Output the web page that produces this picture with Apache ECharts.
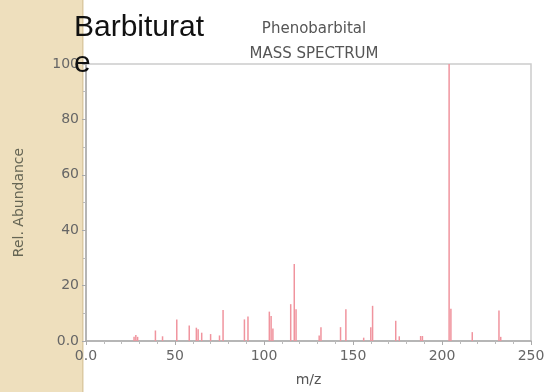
<!DOCTYPE html>
<html>
<head>
<meta charset="utf-8">
<script src="https://cdn.jsdelivr.net/npm/echarts@6/dist/echarts.min.js"></script>
<style>
  html, body { margin: 0; padding: 0; background: #fff; }
  #chart { width: 549px; height: 392px; }
</style>
</head>
<body>
<div id="chart"></div>
<script>
// peaks: m/z and relative abundance
const mz = [27, 28, 29, 39, 43, 51, 58, 62, 63, 65, 70, 75, 77, 89, 91, 103, 104, 105, 115, 117, 118, 131, 132, 143, 146, 156, 160, 161, 174, 176, 188, 189, 204, 205, 217, 232, 233];
const abundance = [1.5, 2.2, 1.5, 3.8, 1.7, 7.8, 5.6, 4.8, 4.2, 3.0, 2.5, 2.0, 11.2, 7.8, 8.8, 10.6, 9.0, 4.5, 13.3, 27.8, 11.5, 2.0, 5.0, 5.0, 11.5, 1.2, 5.0, 12.7, 7.3, 1.7, 1.8, 1.8, 100, 11.6, 3.2, 11.0, 1.5];
const xTicks = [0, 50, 100, 150, 200, 250];
const yTicks = [0, 20, 40, 60, 80, 100];

const chart = echarts.init(document.getElementById("chart"));

const fmt = (v) => (v === 0 ? "0.0" : String(v));

chart.setOption({
  animation: false,
  backgroundColor: "#ffffff",
  textStyle: { fontFamily: "DejaVu Sans" },
  graphic: [
    {
      type: "rect",
      z: -10,
      shape: { x: 0, y: 0, width: 83, height: 392 },
      style: { fill: "#eedfbd" },
    },
    {
      type: "rect",
      z: -9,
      shape: { x: 82, y: 0, width: 1.5, height: 392 },
      style: { fill: "#dccaa2" },
    },
  ],
  title: [
    {
      text: "Barbiturat\ne",
      left: 69,
      top: 5,
      textStyle: {
        fontFamily: "Liberation Sans",
        fontSize: 30,
        fontWeight: "normal",
        lineHeight: 36,
        color: "#111111",
      },
    },
    {
      text: "Phenobarbital",
      left: 309,
      top: 17,
      textAlign: "center",
      textStyle: { fontSize: 15, fontWeight: "normal", color: "#555555" },
    },
    {
      text: "MASS SPECTRUM",
      left: 309,
      top: 42,
      textAlign: "center",
      textStyle: { fontSize: 15, fontWeight: "normal", color: "#555555" },
    },
  ],
  grid: {
    left: 86,
    right: 18,
    top: 64,
    bottom: 49,
    show: true,
    borderColor: "#cccccc",
    borderWidth: 1.5,
    backgroundColor: "transparent",
  },
  xAxis: {
    type: "value",
    min: xTicks[0],
    max: xTicks[xTicks.length - 1],
    interval: 50,
    name: "m/z",
    nameLocation: "middle",
    nameGap: 32,
    nameTextStyle: { fontSize: 14, color: "#555555" },
    axisLine: { show: true, lineStyle: { color: "#aaaaaa", width: 1.5 } },
    axisTick: { show: true, length: 4, lineStyle: { color: "#aaaaaa" } },
    minorTick: { show: true, splitNumber: 5, length: 3, lineStyle: { color: "#bbbbbb" } },
    splitLine: { show: false },
    axisLabel: { fontSize: 14, color: "#666666", margin: 8, formatter: fmt },
  },
  yAxis: {
    type: "value",
    min: yTicks[0],
    max: yTicks[yTicks.length - 1],
    interval: 20,
    name: "Rel. Abundance",
    nameLocation: "middle",
    nameGap: 60,
    nameTextStyle: { fontSize: 14, color: "#666655" },
    axisLine: { show: true, lineStyle: { color: "#aaaaaa", width: 1.5 } },
    axisTick: { show: true, length: 4, lineStyle: { color: "#aaaaaa" } },
    minorTick: { show: true, splitNumber: 2, length: 3, lineStyle: { color: "#bbbbbb" } },
    splitLine: { show: false },
    axisLabel: { fontSize: 14, color: "#666666", margin: 7, formatter: fmt },
  },
  series: [
    {
      type: "bar",
      barWidth: 1.5,
      itemStyle: { color: "#f0949e" },
      data: mz.map((m, i) => [m, abundance[i]]),
    },
  ],
});
</script>
</body>
</html>
